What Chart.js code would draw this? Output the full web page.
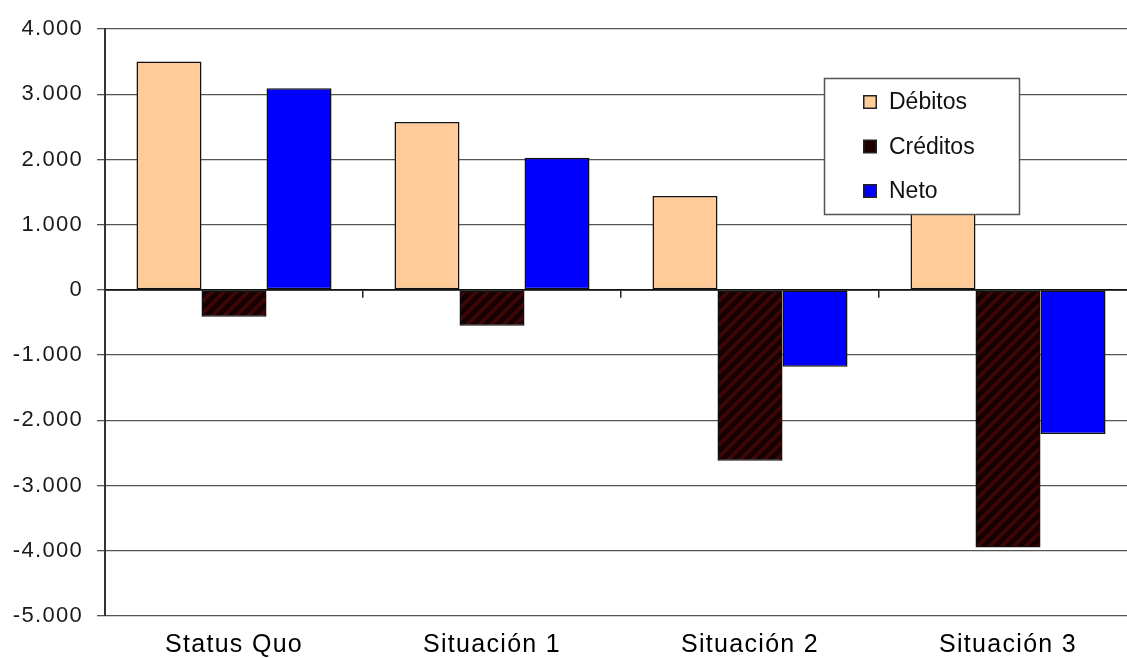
<!DOCTYPE html>
<html>
<head>
<meta charset="utf-8">
<script src="https://cdn.jsdelivr.net/npm/chart.js@4/dist/chart.umd.min.js"></script>
<style>
  html, body { margin: 0; padding: 0; background: #fff; overflow: hidden; }
  canvas { display: block; }
</style>
</head>
<body>
<canvas id="c" width="1140" height="658"></canvas>
<script>
const categories = ['Status Quo', 'Situación 1', 'Situación 2', 'Situación 3'];
const debitos  = [3500, 2575, 1440, 1740];
const creditos = [-410, -550, -2620, -3950];
const neto     = [3090, 2025, -1180, -2210];
const seriesNames = ['Débitos', 'Créditos', 'Neto'];
const yMin = -5000, yMax = 4000, yStep = 1000;

const FONT = '"Liberation Sans", Arial, sans-serif';

// Hatched fill for the credits series: dark brown with faint diagonal stripes
function hatch() {
  const s = 12;
  const p = document.createElement('canvas');
  p.width = s; p.height = s;
  const g = p.getContext('2d');
  g.fillStyle = '#160000';
  g.fillRect(0, 0, s, s);
  g.strokeStyle = '#3f0707';
  g.lineWidth = 3.5;
  g.beginPath();
  g.moveTo(-2, s + 2); g.lineTo(s + 2, -2);
  g.moveTo(-2 - s, s + 2); g.lineTo(2, -2);
  g.moveTo(s - 2, s + 2); g.lineTo(2 * s + 2, -2);
  g.stroke();
  return g.createPattern(p, 'repeat');
}

const colors = ['#FFCC99', hatch(), '#0000FF'];
const swatch = ['#FFCC99', '#1f0000', '#0000FF'];

// Axis labels are set a little wide, with extra tracking
const tracking = {
  id: 'tracking',
  beforeDraw(chart) { chart.ctx.letterSpacing = '1.3px'; }
};

// Boxed legend drawn over the plot area, like a floating legend
const floatingLegend = {
  id: 'floatingLegend',
  afterDatasetsDraw(chart) {
    const ctx = chart.ctx;
    const x = 824, y = 78, w = 195, h = 136;
    ctx.save();
    ctx.letterSpacing = '0px';
    ctx.fillStyle = '#fff';
    ctx.fillRect(x, y, w, h);
    ctx.strokeStyle = '#555';
    ctx.lineWidth = 1.5;
    ctx.strokeRect(x + 0.5, y + 0.5, w, h);
    ctx.font = '23px ' + FONT;
    ctx.textBaseline = 'middle';
    chart.data.datasets.forEach((ds, i) => {
      const cy = 102 + i * 44.5;
      ctx.fillStyle = swatch[i];
      ctx.fillRect(864, cy - 6, 12, 12);
      ctx.strokeStyle = '#222';
      ctx.lineWidth = 1.5;
      ctx.strokeRect(863.75, cy - 6.25, 12.5, 12.5);
      ctx.fillStyle = '#111';
      ctx.fillText(ds.label, 889, cy + 1);
    });
    ctx.restore();
  }
};

const thousands = v => {
  const s = Math.abs(v).toString().replace(/\B(?=(\d{3})+(?!\d))/g, '.');
  return (v < 0 ? '-' : '') + s;
};

new Chart(document.getElementById('c'), {
  type: 'bar',
  data: {
    labels: categories,
    datasets: [debitos, creditos, neto].map((d, i) => ({
      label: seriesNames[i],
      data: d,
      backgroundColor: colors[i],
      borderColor: '#111',
      borderWidth: 1.5,
      borderSkipped: false,
      categoryPercentage: 0.756,
      barPercentage: 1,
      xAxisID: 'x'
    }))
  },
  options: {
    responsive: false,
    animation: false,
    events: [],
    layout: { padding: { top: 29, left: 0, right: 3, bottom: 0 } },
    plugins: { legend: { display: false }, tooltip: { enabled: false } },
    scales: {
      x: {
        type: 'category',
        position: 'bottom',
        grid: { display: false, drawTicks: false },
        border: { display: false },
        ticks: { color: '#000', font: { family: FONT, size: 25 }, padding: 14 },
        afterFit: s => { s.height = 42; }
      },
      x2: {
        type: 'category',
        labels: categories,
        position: { y: 0 },
        grid: { offset: true, drawOnChartArea: false, drawTicks: true, tickLength: 7, color: '#222', lineWidth: 1.5 },
        border: { color: '#111', width: 1.8 },
        ticks: { display: false }
      },
      y: {
        min: yMin, max: yMax,
        ticks: {
          stepSize: yStep,
          color: '#1a1a1a',
          font: { family: FONT, size: 22 },
          padding: 14,
          callback: v => thousands(v)
        },
        grid: { color: '#555', lineWidth: 1.3, tickLength: 8 },
        border: { color: '#333', width: 2 },
        afterFit: s => { s.width = 105; }
      }
    }
  },
  plugins: [tracking, floatingLegend]
});
</script>
</body>
</html>
